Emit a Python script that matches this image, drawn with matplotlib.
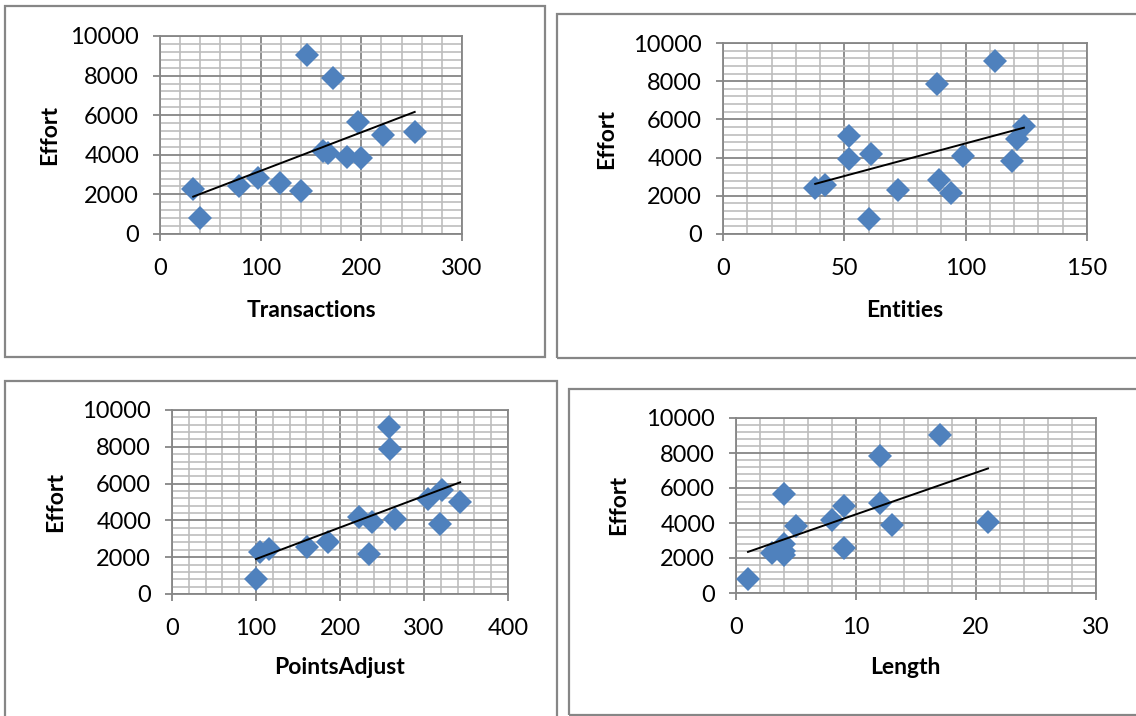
import numpy as np
import matplotlib
matplotlib.use("Agg")
import matplotlib.pyplot as plt
from matplotlib.patches import Rectangle
from matplotlib.ticker import MultipleLocator

# ---- data (Effort vs. four size measures) ----
effort = [5152, 5635, 805, 3829, 2149, 2821, 2569, 3913, 7854, 2422, 4067, 9051, 2282, 4172, 4977]
transactions = [253, 197, 40, 200, 140, 97, 119, 186, 172, 78, 167, 146, 33, 162, 222]
entities = [52, 124, 60, 119, 94, 89, 42, 52, 88, 38, 99, 112, 72, 61, 121]
points_adjust = [305, 321, 100, 319, 234, 186, 161, 238, 260, 116, 266, 258, 105, 223, 343]
length = [12, 4, 1, 5, 4, 4, 9, 13, 12, 4, 21, 17, 3, 8, 9]

x_names = ["Transactions", "Entities", "PointsAdjust", "Length"]
y_name = "Effort"
x_max = [300, 150, 400, 30]
x_major = [100, 50, 100, 10]
y_max = 10000
y_major = 2000

W, H = 1136, 716
fig = plt.figure(figsize=(W / 100, H / 100), dpi=100)
plt.rcParams['font.family'] = ['Lato', 'DejaVu Sans']


def box(x0, y0, x1, y1):
    return [x0 / W, 1 - y1 / H, (x1 - x0) / W, (y1 - y0) / H]


# layout in pixels: axes box, border box, xlabel (x,y), ylabel (x,y)
layouts = [
    dict(ax=(160, 36, 462, 234), border=(5, 6, 545, 357), xl=(311, 310), yl=(50, 135)),
    dict(ax=(723, 43, 1087, 234), border=(557, 14, 1150, 358), xl=(905, 310), yl=(607, 139)),
    dict(ax=(172, 410, 508, 594), border=(5, 381, 557, 730), xl=(340, 668), yl=(56, 502)),
    dict(ax=(736, 418, 1096, 593), border=(569, 389, 1150, 715), xl=(905, 667), yl=(619, 505)),
]

xs_all = [transactions, entities, points_adjust, length]

major_c = "#868686"
minor_c = "#bdbdbd"
blue = "#4f81bd"

for i, (xs, lay) in enumerate(zip(xs_all, layouts)):
    # panel border
    bx0, by0, bx1, by1 = lay["border"]
    fig.patches.append(Rectangle((bx0 / W, 1 - by1 / H), (bx1 - bx0) / W, (by1 - by0) / H,
                                 transform=fig.transFigure, fill=False,
                                 edgecolor="#868686", linewidth=1.6, zorder=0))

    ax = fig.add_axes(box(*lay["ax"]))
    ax.set_xlim(0, x_max[i])
    ax.set_ylim(0, y_max)
    ax.xaxis.set_major_locator(MultipleLocator(x_major[i]))
    ax.xaxis.set_minor_locator(MultipleLocator(x_major[i] / 5))
    ax.yaxis.set_major_locator(MultipleLocator(y_major))
    ax.yaxis.set_minor_locator(MultipleLocator(y_major / 5))
    ax.grid(which="minor", color=minor_c, linewidth=1.2)
    ax.grid(which="major", color=major_c, linewidth=1.3)
    ax.set_axisbelow(True)
    for s in ax.spines.values():
        s.set_color(major_c)
        s.set_linewidth(1.3)
    ax.tick_params(which="major", direction="out", length=5, width=1.3, color=major_c,
                   labelsize=17, labelcolor="black")
    ax.tick_params(axis="y", pad=10)
    ax.tick_params(axis="x", pad=12)
    ax.tick_params(which="minor", length=0)

    ax.plot(xs, effort, linestyle="none", marker="D", markersize=12,
            color=blue, markeredgewidth=0, zorder=3, clip_on=False)

    # linear trendline
    a, b = np.polyfit(xs, effort, 1)
    tx = np.array([min(xs), max(xs)])
    ax.plot(tx, a * tx + b, color="black", linewidth=1.4, zorder=4)

    fig.text(lay["xl"][0] / W, 1 - lay["xl"][1] / H, x_names[i], ha="center", va="center",
             fontsize=16.5, fontweight="bold")
    fig.text(lay["yl"][0] / W, 1 - lay["yl"][1] / H, y_name, ha="center", va="center",
             fontsize=16.5, fontweight="bold", rotation=90)

fig.savefig("out.png", dpi=100)
